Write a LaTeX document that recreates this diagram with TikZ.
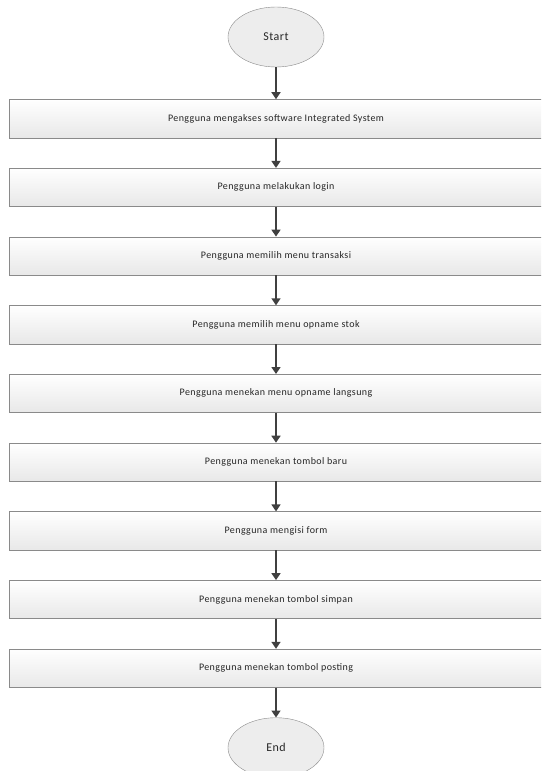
\documentclass[tikz,border=0pt]{standalone}
\usepackage{fontspec}
\setmainfont{Carlito}
\newfontfamily\flowfont[LetterSpace=4]{Carlito}
\usetikzlibrary{arrows.meta,positioning,shapes.geometric}
\definecolor{ArrowGray}{HTML}{404040}
\definecolor{EdgeGray}{HTML}{8A8A8A}
\definecolor{BoxShade}{HTML}{E8E8E8}
\definecolor{TermFill}{HTML}{EDEDED}
\definecolor{InkGray}{HTML}{262626}

\begin{document}
\begin{tikzpicture}[x=1pt,y=1pt,node distance=30pt,
    stepbox/.style={draw=EdgeGray,top color=white,bottom color=BoxShade,minimum width=533pt,
                    minimum height=38.3pt,inner sep=0pt,text=InkGray,font=\flowfont\fontsize{10}{12}\selectfont},
    term/.style={ellipse,draw=EdgeGray,fill=TermFill,minimum width=96pt,minimum height=60pt,
                 inner sep=0pt,text=InkGray,font=\flowfont\fontsize{12}{14}\selectfont},
    arr/.style={-{Triangle[length=7pt,width=9pt]},line width=1.6pt,ArrowGray}]
    \clip (0,0) rectangle (541,-771);
    \node[term] (start) at (276,-37) {Start};
    \node[stepbox,below=32pt of start] (akses) {Pengguna mengakses software Integrated System};
    \node[stepbox,below=of akses] (login) {Pengguna melakukan login};
    \node[stepbox,below=of login] (transaksi) {Pengguna memilih menu transaksi};
    \node[stepbox,below=of transaksi] (opname) {Pengguna memilih menu opname stok};
    \node[stepbox,below=of opname] (langsung) {Pengguna menekan menu opname langsung};
    \node[stepbox,below=of langsung] (baru) {Pengguna menekan tombol baru};
    \node[stepbox,below=of baru] (form) {Pengguna mengisi form};
    \node[stepbox,below=of form] (simpan) {Pengguna menekan tombol simpan};
    \node[stepbox,below=of simpan] (posting) {Pengguna menekan tombol posting};
    \node[term,below=of posting] (finish) {End};
    \draw[arr] (start) -- (akses);
    \draw[arr] (akses) -- (login);
    \draw[arr] (login) -- (transaksi);
    \draw[arr] (transaksi) -- (opname);
    \draw[arr] (opname) -- (langsung);
    \draw[arr] (langsung) -- (baru);
    \draw[arr] (baru) -- (form);
    \draw[arr] (form) -- (simpan);
    \draw[arr] (simpan) -- (posting);
    \draw[arr] (posting) -- (finish);
\end{tikzpicture}
\end{document}
